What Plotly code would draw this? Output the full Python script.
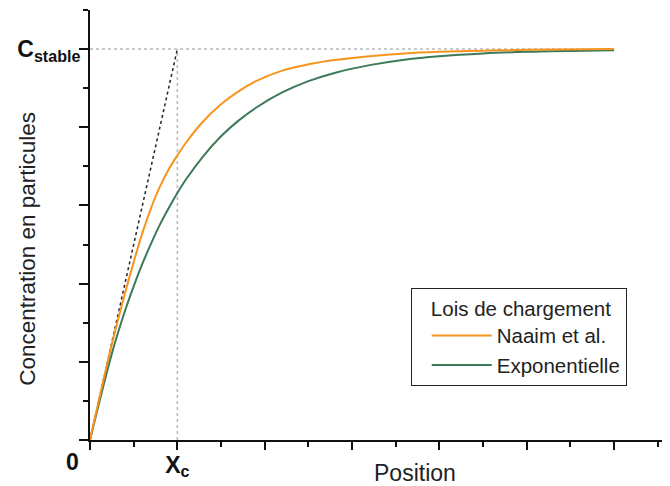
import plotly.graph_objects as go

# Data (position in units of Xc, concentration in units of C_stable)
position = [0, 0.25, 0.4, 0.5, 0.6, 0.7, 0.8, 0.9, 1.0, 1.1, 1.3, 1.5, 1.7, 1.9, 2.2, 2.5, 2.8, 3.2, 3.6, 4.0, 4.5, 5.0, 6.0]
naaim = [0, 0.245, 0.375, 0.455, 0.530, 0.594, 0.648, 0.692, 0.728, 0.761, 0.816, 0.859, 0.892, 0.918,
         0.945, 0.961, 0.972, 0.982, 0.989, 0.993, 0.996, 0.998, 1.0]
exponentielle = [0, 0.221, 0.330, 0.393, 0.451, 0.503, 0.551, 0.593, 0.632, 0.667, 0.727, 0.777, 0.817, 0.850,
                 0.889, 0.918, 0.939, 0.959, 0.973, 0.982, 0.989, 0.993, 0.997]

xc = 1.0          # characteristic length X_c
c_stable = 1.0    # stable concentration
x_end = 6.0       # end of the curves

x_tickvals = [0, 1, 2, 3, 4, 5, 6]
x_ticktext = ["", "<b>X<sub>c</sub></b>", "", "", "", "", ""]
y_tickvals = [0, 0.2, 0.4, 0.6, 0.8, 1.0]
y_ticktext = ["", "", "", "", "", "<b>C<sub>stable</sub></b>"]

ORANGE = "#F7941D"
GREEN = "#3D7A58"
FONT = "Liberation Sans, Arial, Helvetica, sans-serif"

fig = go.Figure()

# reference lines
fig.add_trace(go.Scatter(x=[0, x_end], y=[c_stable, c_stable], mode="lines",
                         line=dict(color="#BBBBBB", width=1.5, dash="dot"),
                         showlegend=False, hoverinfo="skip"))
fig.add_trace(go.Scatter(x=[xc, xc], y=[0, c_stable], mode="lines",
                         line=dict(color="#BBBBBB", width=1.5, dash="dot"),
                         showlegend=False, hoverinfo="skip"))
fig.add_trace(go.Scatter(x=[0, xc], y=[0, c_stable], mode="lines",
                         line=dict(color="#222222", width=1.5, dash="dot"),
                         showlegend=False, hoverinfo="skip"))

fig.add_trace(go.Scatter(x=position, y=exponentielle, mode="lines", name="Exponentielle",
                         line=dict(color=GREEN, width=2, shape="spline"), legendrank=2))
fig.add_trace(go.Scatter(x=position, y=naaim, mode="lines", name="Naaim et al.",
                         line=dict(color=ORANGE, width=2, shape="spline"), legendrank=1))

# the page body adds an 8px offset, so the figure is 8px smaller and margins are compensated
fig.update_layout(
    width=662, height=478,
    margin=dict(l=82, r=0, t=2, b=46),
    paper_bgcolor="white", plot_bgcolor="white",
    font=dict(family=FONT, color="#111111"),
    legend=dict(
        title=dict(text="\u00a0\u00a0\u00a0Lois de chargement\u00a0\u00a0", font=dict(size=20.5, color="#222222")),
        font=dict(size=20.5, color="#222222"),
        x=0.553, y=0.3535, xanchor="left", yanchor="top",
        bordercolor="#222222", borderwidth=1, bgcolor="white",
        tracegroupgap=0, itemwidth=60, indentation=15,
    ),
    xaxis=dict(
        range=[0, 6.64], showgrid=False, zeroline=False, automargin=False,
        showline=True, linecolor="#111111", linewidth=2,
        ticks="outside", ticklen=8, tickwidth=2, tickcolor="#111111",
        tickvals=x_tickvals, ticktext=x_ticktext, ticklabelstandoff=-5,
        tickfont=dict(size=23, color="#111111"),
        minor=dict(ticks="outside", ticklen=5, tickwidth=2, tickcolor="#111111", dtick=0.5, tick0=0, showgrid=False),
    ),
    yaxis=dict(
        range=[0, 1.1], showgrid=False, zeroline=False, automargin=False,
        showline=True, linecolor="#111111", linewidth=2,
        ticks="outside", ticklen=9, tickwidth=2, tickcolor="#111111",
        tickvals=y_tickvals, ticktext=y_ticktext, ticklabelstandoff=-6,
        tickfont=dict(size=23, color="#111111"),
        minor=dict(ticks="outside", ticklen=5, tickwidth=2, tickcolor="#111111", dtick=0.1, tick0=0, showgrid=False),
    ),
    annotations=[
        dict(text="<b>0</b>", x=0, y=0, xref="x", yref="y", showarrow=False,
             xshift=-18, yshift=-22, font=dict(size=23, color="#111111")),
        dict(text="Position", x=0.56, y=-0.077, xref="paper", yref="paper", showarrow=False,
             xanchor="center", yanchor="middle", font=dict(size=23, color="#222222")),
        dict(text="Concentration en particules", x=-0.109, y=0.444, xref="paper", yref="paper",
             showarrow=False, textangle=-90, xanchor="center", yanchor="middle",
             font=dict(size=22.5, color="#222222")),
    ],
)

fig.write_html("out.html")
